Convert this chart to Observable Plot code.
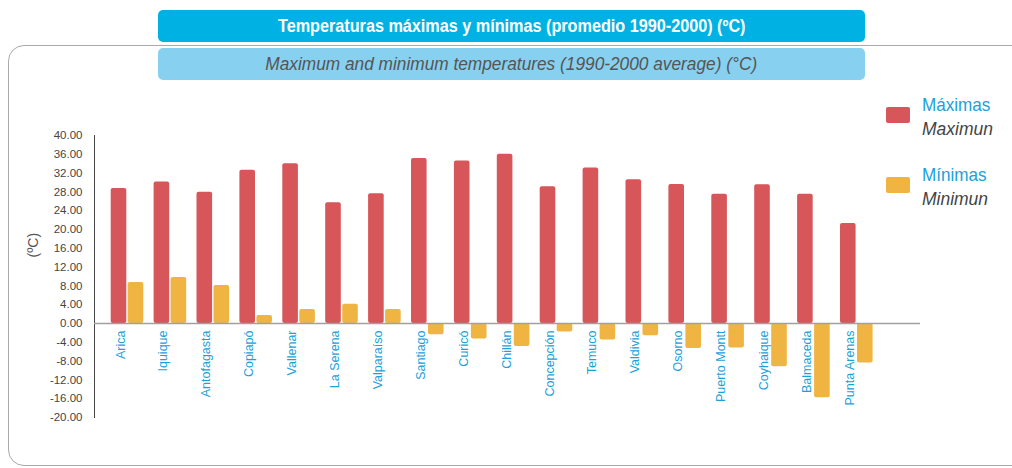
<!DOCTYPE html>
<html>
<head>
<meta charset="utf-8">
<script src="https://cdn.jsdelivr.net/npm/d3@7"></script>
<script src="https://cdn.jsdelivr.net/npm/@observablehq/plot@0.6"></script>
<style>
  html, body { margin: 0; padding: 0; background: #fff; }
  #wrap { position: relative; width: 1012px; height: 468px; overflow: hidden;
          font-family: "Liberation Sans", sans-serif; }
  #panel { position: absolute; left: 8px; top: 45px; width: 1100px; height: 421px;
           border: 1px solid #aaa; border-radius: 16px; box-sizing: border-box; }
  .tbox { position: absolute; left: 158px; width: 707px; height: 32px; border-radius: 5px;
          display: flex; align-items: center; justify-content: center; font-size: 18px; }
  .tbox span { display: inline-block; white-space: nowrap; }
  #t1 { top: 10px; background: #00b2e3; color: #fff; font-weight: bold; }
  #t1 span { transform: scaleX(0.9); }
  #t2 { top: 48px; background: #87d0f0; color: #555; font-style: italic; }
  #t2 span { transform: scaleX(0.96); }
  #chart { position: absolute; left: 0; top: 0; }
  .sw { position: absolute; left: 886px; width: 24px; height: 16px; border-radius: 2px; }
  .lg { position: absolute; left: 922px; font-size: 19px; line-height: 22px; white-space: nowrap;
        transform-origin: left center; }
  .es { color: #1ba1da; transform: scaleX(0.9); }
  .en { color: #444; font-style: italic; transform: scaleX(0.92); }
</style>
</head>
<body>
<div id="wrap">
  <div id="panel"></div>
  <div id="chart"></div>
  <div class="tbox" id="t1"><span></span></div>
  <div class="tbox" id="t2"><span></span></div>
  <div id="legend"></div>
</div>
<script>
const titleEs = "Temperaturas máximas y mínimas (promedio 1990-2000) (ºC)";
const titleEn = "Maximum and minimum temperatures (1990-2000 average) (°C)";
const yLabel = "(ºC)";

const cities = ["Arica", "Iquique", "Antofagasta", "Copiapó", "Vallenar", "La Serena",
  "Valparaíso", "Santiago", "Curicó", "Chillán", "Concepción", "Temuco", "Valdivia",
  "Osorno", "Puerto Montt", "Coyhaique", "Balmaceda", "Punta Arenas"];
const maxima = [28.7, 30.1, 27.9, 32.6, 34.0, 25.7, 27.6, 35.1, 34.6, 36.0, 29.1, 33.1,
  30.6, 29.6, 27.5, 29.5, 27.5, 21.3];
const minima = [8.7, 9.8, 8.1, 1.7, 3.0, 4.1, 3.0, -2.4, -3.3, -4.9, -1.8, -3.5,
  -2.6, -5.3, -5.2, -9.2, -15.8, -8.4];

const seriesEs = ["Máximas", "Mínimas"];
const seriesEn = ["Maximun", "Minimun"];
const seriesColors = ["#d6565a", "#f0b443"];
const yTicks = [-20, -16, -12, -8, -4, 0, 4, 8, 12, 16, 20, 24, 28, 32, 36, 40];

document.querySelector("#t1 span").textContent = titleEs;
document.querySelector("#t2 span").textContent = titleEn;

const rows = cities.map((c, i) => ({city: c, max: maxima[i], min: minima[i]}));

const chart = Plot.plot({
  width: 1012,
  height: 468,
  marginLeft: 94,
  marginRight: 92,
  marginTop: 135,
  marginBottom: 51,
  style: {background: "transparent", fontFamily: "'Liberation Sans', sans-serif", fontSize: "11.5px", color: "#444"},
  x: {type: "band", domain: cities, range: [105.6, 877.8], padding: 0, round: false, axis: null},
  y: {domain: [-20, 40], ticks: yTicks, tickFormat: d => d.toFixed(2), tickSize: 0, tickPadding: 12, line: true, label: null},
  marks: [
    Plot.barY(rows, {x: "city", y: "max", fill: seriesColors[0], insetLeft: 5.1, insetRight: 22.2, rx: 2}),
    Plot.barY(rows, {x: "city", y: "min", fill: seriesColors[1], insetLeft: 22.1, insetRight: 5.2, rx: 2}),
    Plot.ruleY([0], {stroke: "#a0a0a0", strokeWidth: 1.5}),
    Plot.text(cities, {x: d => d, y: d => 0, rotate: -90, textAnchor: "end", lineAnchor: "middle",
      dx: -7, dy: 7, fill: "#1ba1da", fontSize: 12.5}),
    Plot.text([yLabel], {frameAnchor: "left", dx: -61, dy: -19, rotate: -90, fill: "#555", fontSize: 14})
  ]
});
document.getElementById("chart").appendChild(chart);

const legend = document.getElementById("legend");
const swTops = [107, 177];
const esTops = [94, 164];
const enTops = [118, 188];
seriesEs.forEach((name, i) => {
  const sw = document.createElement("div");
  sw.className = "sw"; sw.style.top = swTops[i] + "px"; sw.style.background = seriesColors[i];
  legend.appendChild(sw);
  const es = document.createElement("div");
  es.className = "lg es"; es.style.top = esTops[i] + "px"; es.textContent = name;
  legend.appendChild(es);
  const en = document.createElement("div");
  en.className = "lg en"; en.style.top = enTops[i] + "px"; en.textContent = seriesEn[i];
  legend.appendChild(en);
});
</script>
</body>
</html>
